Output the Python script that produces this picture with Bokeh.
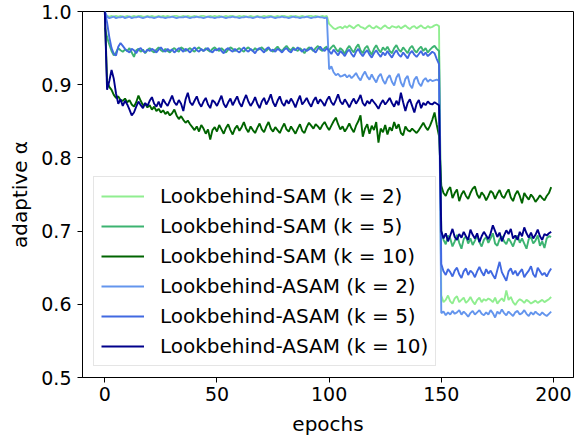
from bokeh.plotting import figure
from bokeh.models import Range1d, FixedTicker, NumeralTickFormatter
from bokeh.embed import file_html
from bokeh.resources import INLINE

epochs = list(range(200))

sam_k2 = [
    0.997, 0.994, 0.993, 0.994, 0.993, 0.994, 0.993, 0.994, 0.993, 0.993,
    0.994, 0.993, 0.993, 0.994, 0.993, 0.994, 0.994, 0.993, 0.993, 0.994,
    0.993, 0.994, 0.993, 0.993, 0.994, 0.993, 0.994, 0.993, 0.994, 0.993,
    0.993, 0.994, 0.994, 0.993, 0.993, 0.994, 0.993, 0.994, 0.993, 0.993,
    0.994, 0.993, 0.993, 0.994, 0.994, 0.993, 0.993, 0.994, 0.993, 0.994,
    0.993, 0.994, 0.993, 0.993, 0.994, 0.993, 0.994, 0.994, 0.993, 0.993,
    0.994, 0.993, 0.994, 0.993, 0.993, 0.994, 0.993, 0.993, 0.994, 0.993,
    0.993, 0.994, 0.993, 0.994, 0.994, 0.993, 0.993, 0.994, 0.993, 0.994,
    0.994, 0.993, 0.993, 0.994, 0.993, 0.994, 0.993, 0.993, 0.994, 0.993,
    0.993, 0.994, 0.994, 0.993, 0.994, 0.993, 0.993, 0.994, 0.993, 0.994,
    0.983, 0.980, 0.977, 0.976, 0.978, 0.979, 0.977, 0.980, 0.978, 0.981,
    0.979, 0.977, 0.980, 0.982, 0.979, 0.978, 0.976, 0.979, 0.981, 0.978,
    0.977, 0.980, 0.978, 0.976, 0.979, 0.981, 0.978, 0.977, 0.980, 0.979,
    0.978, 0.980, 0.977, 0.979, 0.981, 0.978, 0.976, 0.979, 0.980, 0.977,
    0.979, 0.981, 0.978, 0.977, 0.980, 0.978, 0.979, 0.981, 0.982, 0.980,
    0.612, 0.603, 0.606, 0.612, 0.604, 0.601, 0.608, 0.611, 0.603, 0.606,
    0.609, 0.602, 0.605, 0.610, 0.604, 0.600, 0.606, 0.609, 0.603, 0.607,
    0.605, 0.608, 0.606, 0.603, 0.609, 0.601, 0.605, 0.608, 0.604, 0.619,
    0.606, 0.610, 0.603, 0.599, 0.604, 0.607, 0.605, 0.602, 0.606, 0.604,
    0.601, 0.603, 0.605, 0.602, 0.604, 0.606, 0.603, 0.605, 0.607, 0.610,
]

sam_k5 = [
    0.978, 0.965, 0.955, 0.946, 0.940, 0.944, 0.950, 0.947, 0.945, 0.948,
    0.946, 0.950, 0.944, 0.938, 0.947, 0.949, 0.945, 0.948, 0.943, 0.947,
    0.950, 0.946, 0.944, 0.948, 0.951, 0.947, 0.945, 0.949, 0.946, 0.944,
    0.948, 0.950, 0.947, 0.945, 0.951, 0.949, 0.946, 0.948, 0.950, 0.947,
    0.945, 0.949, 0.951, 0.948, 0.946, 0.950, 0.947, 0.945, 0.949, 0.951,
    0.948, 0.946, 0.950, 0.947, 0.944, 0.948, 0.951, 0.949, 0.946, 0.948,
    0.950, 0.947, 0.945, 0.949, 0.951, 0.948, 0.946, 0.950, 0.947, 0.949,
    0.951, 0.948, 0.946, 0.950, 0.947, 0.945, 0.949, 0.952, 0.948, 0.946,
    0.950, 0.953, 0.949, 0.947, 0.951, 0.948, 0.946, 0.950, 0.947, 0.943,
    0.948, 0.951, 0.949, 0.946, 0.950, 0.953, 0.948, 0.946, 0.950, 0.952,
    0.947, 0.951, 0.954, 0.949, 0.945, 0.950, 0.947, 0.942, 0.949, 0.953,
    0.948, 0.944, 0.951, 0.955, 0.947, 0.943, 0.950, 0.953, 0.946, 0.941,
    0.949, 0.954, 0.948, 0.944, 0.951, 0.947, 0.952, 0.946, 0.943, 0.950,
    0.954, 0.948, 0.945, 0.951, 0.947, 0.943, 0.950, 0.953, 0.947, 0.944,
    0.949, 0.952, 0.946, 0.950, 0.944, 0.948, 0.951, 0.953, 0.949, 0.946,
    0.700, 0.688, 0.682, 0.694, 0.690, 0.679, 0.686, 0.695, 0.684, 0.676,
    0.689, 0.693, 0.683, 0.690, 0.681, 0.687, 0.694, 0.685, 0.679, 0.688,
    0.692, 0.684, 0.690, 0.697, 0.683, 0.680, 0.689, 0.693, 0.686, 0.682,
    0.690, 0.685, 0.679, 0.688, 0.694, 0.684, 0.690, 0.683, 0.676, 0.689,
    0.692, 0.683, 0.687, 0.694, 0.680, 0.686, 0.677, 0.690, 0.693, 0.692,
]

sam_k10 = [
    1.000, 0.905, 0.897, 0.893, 0.886, 0.882, 0.884, 0.879, 0.878, 0.881,
    0.876, 0.879, 0.873, 0.870, 0.876, 0.885, 0.878, 0.872, 0.874, 0.869,
    0.872, 0.866, 0.870, 0.864, 0.867, 0.862, 0.865, 0.860, 0.863, 0.858,
    0.861, 0.866, 0.858, 0.853, 0.857, 0.852, 0.848, 0.851, 0.846, 0.842,
    0.838, 0.843, 0.836, 0.845, 0.840, 0.833, 0.839, 0.825, 0.838, 0.842,
    0.836, 0.845, 0.839, 0.833, 0.841, 0.846, 0.838, 0.832, 0.840, 0.844,
    0.837, 0.842, 0.849, 0.840, 0.835, 0.843, 0.838, 0.834, 0.841, 0.847,
    0.839, 0.835, 0.843, 0.849, 0.840, 0.836, 0.842, 0.838, 0.834, 0.841,
    0.847, 0.839, 0.836, 0.843, 0.838, 0.833, 0.840, 0.846, 0.837, 0.834,
    0.842, 0.848, 0.844, 0.840, 0.846, 0.843, 0.839, 0.845, 0.849, 0.843,
    0.838, 0.844, 0.850, 0.855, 0.846, 0.839, 0.843, 0.836, 0.841, 0.847,
    0.840, 0.835, 0.844, 0.850, 0.858, 0.829, 0.840, 0.846, 0.833, 0.844,
    0.838, 0.849, 0.821, 0.840, 0.835, 0.845, 0.832, 0.842, 0.837, 0.849,
    0.840, 0.846, 0.834, 0.831, 0.843, 0.838, 0.836, 0.840, 0.837, 0.834,
    0.838, 0.843, 0.848, 0.842, 0.838, 0.844, 0.852, 0.862, 0.845, 0.830,
    0.762, 0.752, 0.748, 0.756, 0.760, 0.745, 0.752, 0.757, 0.741, 0.750,
    0.755, 0.748, 0.744, 0.752, 0.758, 0.761, 0.750, 0.745, 0.753, 0.749,
    0.742, 0.748, 0.755, 0.752, 0.744, 0.751, 0.756, 0.748, 0.745, 0.752,
    0.757, 0.746, 0.741, 0.750, 0.755, 0.748, 0.738, 0.752, 0.747, 0.743,
    0.750, 0.746, 0.740, 0.744, 0.749, 0.745, 0.742, 0.748, 0.752, 0.760,
]

asam_k2 = [
    1.000, 0.993, 0.991, 0.992, 0.993, 0.991, 0.992, 0.992, 0.993, 0.991,
    0.992, 0.993, 0.991, 0.992, 0.992, 0.993, 0.992, 0.991, 0.992, 0.993,
    0.992, 0.992, 0.991, 0.992, 0.993, 0.992, 0.992, 0.991, 0.992, 0.992,
    0.993, 0.992, 0.991, 0.992, 0.992, 0.992, 0.993, 0.992, 0.991, 0.992,
    0.992, 0.993, 0.992, 0.992, 0.991, 0.992, 0.993, 0.992, 0.992, 0.991,
    0.992, 0.992, 0.993, 0.992, 0.991, 0.992, 0.992, 0.993, 0.992, 0.992,
    0.991, 0.992, 0.992, 0.993, 0.992, 0.992, 0.991, 0.992, 0.993, 0.992,
    0.992, 0.991, 0.992, 0.992, 0.993, 0.992, 0.991, 0.992, 0.992, 0.993,
    0.992, 0.992, 0.991, 0.992, 0.993, 0.992, 0.992, 0.991, 0.992, 0.992,
    0.993, 0.992, 0.991, 0.992, 0.992, 0.993, 0.992, 0.992, 0.991, 0.992,
    0.921, 0.925, 0.917, 0.913, 0.915, 0.911, 0.912, 0.914, 0.910, 0.913,
    0.909, 0.912, 0.916, 0.910, 0.906, 0.913, 0.918, 0.911, 0.907, 0.914,
    0.908, 0.903, 0.911, 0.915, 0.906, 0.901, 0.909, 0.913, 0.904, 0.899,
    0.910, 0.915, 0.903, 0.897, 0.908, 0.912, 0.900, 0.895, 0.907, 0.911,
    0.902, 0.898, 0.906, 0.909, 0.904, 0.907, 0.905, 0.906, 0.907, 0.905,
    0.588, 0.590, 0.585, 0.589, 0.586, 0.591, 0.587, 0.589, 0.592, 0.586,
    0.590, 0.587, 0.583, 0.588, 0.591, 0.586, 0.589, 0.592, 0.587, 0.585,
    0.589, 0.586, 0.592, 0.588, 0.582, 0.590, 0.587, 0.593, 0.588, 0.585,
    0.590, 0.587, 0.584, 0.589, 0.591, 0.586, 0.588, 0.592, 0.587, 0.584,
    0.589, 0.586, 0.590, 0.587, 0.585, 0.589, 0.586, 0.584, 0.587, 0.590,
]

asam_k5 = [
    1.000, 0.985, 0.965, 0.950, 0.942, 0.940, 0.952, 0.957, 0.953, 0.949,
    0.946, 0.944, 0.949, 0.947, 0.943, 0.948, 0.950, 0.946, 0.944, 0.948,
    0.946, 0.949, 0.947, 0.944, 0.948, 0.951, 0.947, 0.945, 0.949, 0.946,
    0.948, 0.944, 0.947, 0.950, 0.948, 0.945, 0.949, 0.947, 0.944, 0.948,
    0.951, 0.947, 0.945, 0.949, 0.946, 0.948, 0.950, 0.946, 0.944, 0.948,
    0.947, 0.950, 0.946, 0.943, 0.948, 0.950, 0.947, 0.945, 0.949, 0.946,
    0.944, 0.948, 0.951, 0.947, 0.945, 0.949, 0.946, 0.943, 0.948, 0.950,
    0.947, 0.944, 0.949, 0.951, 0.946, 0.948, 0.945, 0.949, 0.947, 0.944,
    0.948, 0.950, 0.946, 0.944, 0.949, 0.947, 0.951, 0.948, 0.945, 0.949,
    0.946, 0.948, 0.951, 0.947, 0.944, 0.949, 0.952, 0.948, 0.946, 0.950,
    0.946, 0.942, 0.948, 0.944, 0.940, 0.946, 0.943, 0.939, 0.945, 0.948,
    0.942, 0.938, 0.945, 0.949, 0.943, 0.939, 0.944, 0.947, 0.941, 0.937,
    0.943, 0.947, 0.942, 0.938, 0.944, 0.940, 0.946, 0.941, 0.937, 0.943,
    0.947, 0.941, 0.938, 0.944, 0.940, 0.936, 0.943, 0.946, 0.941, 0.938,
    0.942, 0.946, 0.940, 0.944, 0.939, 0.942, 0.945, 0.943, 0.935, 0.928,
    0.655, 0.645, 0.640, 0.648, 0.644, 0.638, 0.646, 0.650, 0.641, 0.636,
    0.645, 0.649, 0.640, 0.646, 0.643, 0.637, 0.645, 0.651, 0.644, 0.639,
    0.648, 0.642, 0.646, 0.640, 0.635, 0.647, 0.658, 0.644, 0.638, 0.632,
    0.645, 0.649, 0.641, 0.646, 0.639, 0.644, 0.648, 0.637, 0.642, 0.646,
    0.652, 0.641, 0.637, 0.650, 0.645, 0.640, 0.643, 0.638, 0.644, 0.649,
]

asam_k10 = [
    1.000, 0.893, 0.905, 0.920, 0.908, 0.888, 0.874, 0.880, 0.871, 0.878,
    0.873, 0.866, 0.858, 0.862, 0.870, 0.877, 0.872, 0.868, 0.875, 0.871,
    0.878, 0.883, 0.874, 0.870, 0.877, 0.869, 0.880, 0.875, 0.871, 0.878,
    0.885, 0.876, 0.872, 0.879, 0.874, 0.864, 0.880, 0.889, 0.876, 0.872,
    0.878, 0.884, 0.875, 0.870, 0.877, 0.882, 0.873, 0.868, 0.879, 0.876,
    0.871, 0.878, 0.885, 0.874, 0.869, 0.876, 0.881, 0.872, 0.878, 0.884,
    0.875, 0.870, 0.879, 0.886, 0.877, 0.871, 0.876, 0.883, 0.874, 0.868,
    0.877, 0.882, 0.873, 0.879, 0.887, 0.876, 0.870, 0.878, 0.884, 0.875,
    0.871, 0.879, 0.874, 0.881, 0.876, 0.869, 0.878, 0.885, 0.873, 0.877,
    0.882, 0.875, 0.870, 0.878, 0.883, 0.874, 0.880, 0.876, 0.871, 0.879,
    0.884, 0.876, 0.872, 0.879, 0.887, 0.877, 0.873, 0.880, 0.875, 0.869,
    0.876, 0.881, 0.874, 0.879, 0.886, 0.875, 0.871, 0.878, 0.874, 0.880,
    0.876, 0.872, 0.867, 0.874, 0.879, 0.873, 0.877, 0.882, 0.875, 0.870,
    0.878, 0.872, 0.889, 0.876, 0.864, 0.875, 0.880, 0.871, 0.862, 0.874,
    0.879, 0.868, 0.875, 0.872, 0.877, 0.874, 0.873, 0.876, 0.874, 0.872,
    0.700, 0.690, 0.697, 0.686, 0.694, 0.703, 0.692, 0.688, 0.696, 0.691,
    0.699, 0.693, 0.688, 0.702, 0.695, 0.690, 0.697, 0.685, 0.693, 0.699,
    0.694, 0.689, 0.697, 0.708, 0.700, 0.692, 0.698, 0.686, 0.694, 0.701,
    0.696, 0.703, 0.690, 0.694, 0.688, 0.699, 0.693, 0.705, 0.697, 0.691,
    0.698, 0.690, 0.695, 0.702, 0.693, 0.688, 0.696, 0.694, 0.697, 0.699,
]

series = [
    ("Lookbehind-SAM (k = 2)", sam_k2, "#90ee90"),
    ("Lookbehind-SAM (k = 5)", sam_k5, "#3cb371"),
    ("Lookbehind-SAM (k = 10)", sam_k10, "#006400"),
    ("Lookbehind-ASAM (k = 2)", asam_k2, "#6495ed"),
    ("Lookbehind-ASAM (k = 5)", asam_k5, "#4169e1"),
    ("Lookbehind-ASAM (k = 10)", asam_k10, "#00008b"),
]

x_ticks = [0, 50, 100, 150, 200]
y_ticks = [0.5, 0.6, 0.7, 0.8, 0.9, 1.0]

FONT = "DejaVu Sans"

p = figure(
    width=581, height=438,
    x_range=Range1d(-9.95, 208.95), y_range=Range1d(0.5, 1.0),
    output_backend="svg", toolbar_location=None,
    min_border_left=82, min_border_right=8, min_border_top=11, min_border_bottom=60,
)
p.grid.visible = False
p.outline_line_color = "black"
p.outline_line_width = 1
p.background_fill_color = "white"
p.border_fill_color = "white"

for label, vals, color in series:
    p.line(epochs, vals, line_color=color, line_width=1.9, legend_label=label)

p.xaxis.ticker = FixedTicker(ticks=x_ticks)
p.yaxis.ticker = FixedTicker(ticks=y_ticks)
p.yaxis.formatter = NumeralTickFormatter(format="0.0")
p.xaxis.axis_label = "epochs"
p.yaxis.axis_label = "adaptive α"
for ax in (p.xaxis[0], p.yaxis[0]):
    ax.axis_line_color = "black"
    ax.major_tick_line_color = "black"
    ax.minor_tick_line_color = None
    ax.major_tick_out = 5
    ax.major_tick_in = 0
    ax.major_label_text_font = FONT
    ax.major_label_text_font_size = "19px"
    ax.major_label_text_color = "black"
    ax.axis_label_text_font = FONT
    ax.axis_label_text_font_size = "20px"
    ax.axis_label_text_font_style = "normal"
    ax.axis_label_text_color = "black"
p.xaxis.major_label_standoff = 4
p.xaxis.axis_label_standoff = 8
p.yaxis.major_label_standoff = 6
p.yaxis.axis_label_standoff = 6

lg = p.legend[0]
lg.location = (11, 11)
lg.margin = 0
lg.padding = 7
lg.spacing = 6
lg.glyph_width = 43
lg.glyph_height = 20
lg.label_height = 20
lg.label_standoff = 16
lg.label_text_font = FONT
lg.label_text_font_size = "20px"
lg.label_text_color = "black"
lg.border_line_color = "#cccccc"
lg.border_line_width = 1
lg.background_fill_color = "white"
lg.background_fill_alpha = 0.8

open("out.html", "w").write(file_html(p, INLINE))
